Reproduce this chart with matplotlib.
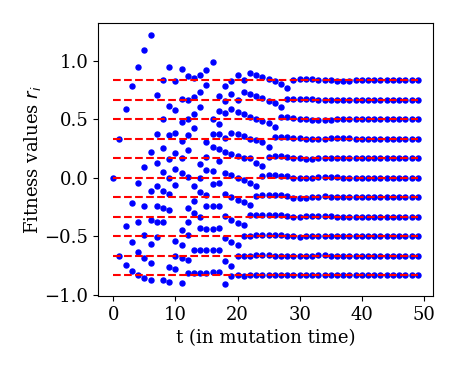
import numpy as np
import matplotlib
matplotlib.use("Agg")
import matplotlib.pyplot as plt

plt.rcParams['font.family'] = 'DejaVu Serif'
plt.rcParams['font.size'] = 13

# fitness levels (dashed lines)
levels = [5/6, 4/6, 3/6, 2/6, 1/6, 0.0, -1/6, -2/6, -3/6, -4/6, -5/6]

# early phase: values read per time step t = 0..19
t_early = list(range(20))
r_early = [
    [0.0],
    [0.333, -0.667],
    [0.584, -0.416, -0.750],
    [0.780, -0.217, -0.550, -0.800],
    [0.949, -0.050, -0.383, -0.633, -0.832],
    [1.090, 0.092, -0.243, -0.487, -0.690, -0.858],
    [1.216, 0.216, -0.116, -0.366, -0.564, -0.730, -0.875],
    [0.706, 0.373, 0.125, -0.073, -0.243, -0.383, -0.507],
    [0.832, 0.501, 0.250, 0.051, -0.116, -0.260, -0.383, -0.875],
    [0.945, 0.612, 0.362, 0.159, -0.006, -0.140, -0.276, -0.764, -0.890],
    [0.826, 0.578, 0.379, 0.210, 0.070, -0.062, -0.546, -0.670, -0.781],
    [0.926, 0.675, 0.479, 0.310, 0.168, 0.043, -0.449, -0.574, -0.688, -0.900],
    [0.868, 0.667, 0.504, 0.362, 0.236, 0.009, -0.256, -0.382, -0.487, -0.705, -0.812],
    [0.855, 0.689, 0.547, 0.424, -0.070, -0.197, -0.303, -0.619, -0.812],
    [0.874, 0.732, 0.607, 0.120, -0.006, -0.120, -0.336, -0.433, -0.617, -0.812],
    [0.920, 0.795, 0.304, 0.180, 0.068, -0.148, -0.243, -0.436, -0.617, -0.812],
    [0.985, 0.500, 0.373, 0.262, 0.060, -0.053, -0.245, -0.436, -0.618, -0.810],
    [0.700, 0.570, 0.460, 0.370, 0.242, 0.142, -0.050, -0.245, -0.433, -0.615, -0.810],
    [0.786, 0.652, 0.552, 0.340, 0.222, 0.040, -0.143, -0.330, -0.519, -0.713, -0.906],
    [0.823, 0.714, 0.585, 0.385, 0.205, 0.020, -0.166, -0.359, -0.547, -0.755, -0.840],
]

# late phase: one series per level, t = 20..49
t_late = list(range(20, 50))
r_late = [
    [0.880, 0.834, 0.897, 0.880, 0.863, 0.845, 0.828, 0.803, 0.770, 0.838, 0.840, 0.841, 0.840, 0.837, 0.835,
     0.834, 0.830, 0.829, 0.830, 0.832, 0.833, 0.833, 0.833, 0.833, 0.833, 0.833, 0.832, 0.832, 0.832, 0.832],
    [0.660, 0.732, 0.712, 0.698, 0.680, 0.658, 0.635, 0.604, 0.675, 0.672, 0.672, 0.672, 0.670, 0.665, 0.662,
     0.661, 0.662, 0.663, 0.666, 0.667, 0.668, 0.668, 0.667, 0.667, 0.667, 0.667, 0.667, 0.667, 0.667, 0.667],
    [0.564, 0.541, 0.521, 0.505, 0.487, 0.470, 0.436, 0.515, 0.515, 0.510, 0.505, 0.502, 0.497, 0.495, 0.495,
     0.497, 0.500, 0.501, 0.501, 0.500, 0.500, 0.500, 0.500, 0.500, 0.500, 0.500, 0.500, 0.500, 0.500, 0.500],
    [0.370, 0.356, 0.333, 0.321, 0.304, 0.265, 0.344, 0.344, 0.344, 0.340, 0.336, 0.330, 0.328, 0.328, 0.330,
     0.336, 0.338, 0.337, 0.335, 0.333, 0.333, 0.333, 0.334, 0.334, 0.333, 0.333, 0.333, 0.333, 0.333, 0.333],
    [0.185, 0.167, 0.164, 0.128, 0.099, 0.180, 0.185, 0.185, 0.176, 0.170, 0.164, 0.162, 0.162, 0.164, 0.170,
     0.171, 0.171, 0.169, 0.167, 0.166, 0.166, 0.167, 0.167, 0.167, 0.167, 0.167, 0.167, 0.167, 0.167, 0.167],
    [0.000, -0.020, -0.043, -0.072, 0.014, 0.020, 0.020, 0.014, 0.010, -0.003, -0.004, -0.004, -0.002, 0.003, 0.005,
     0.005, 0.003, 0.001, 0.000, 0.000, -0.001, 0.000, 0.000, 0.000, 0.000, 0.000, 0.000, 0.000, 0.000, 0.000],
    [-0.191, -0.208, -0.237, -0.157, -0.150, -0.148, -0.150, -0.152, -0.160, -0.172, -0.172, -0.170, -0.168, -0.163, -0.161,
     -0.162, -0.164, -0.166, -0.167, -0.167, -0.167, -0.167, -0.167, -0.167, -0.167, -0.167, -0.167, -0.167, -0.167, -0.167],
    [-0.385, -0.408, -0.318, -0.316, -0.316, -0.316, -0.316, -0.320, -0.326, -0.338, -0.338, -0.330, -0.328, -0.327, -0.328,
     -0.332, -0.334, -0.334, -0.333, -0.333, -0.333, -0.333, -0.333, -0.333, -0.333, -0.333, -0.333, -0.333, -0.333, -0.333],
    [-0.578, -0.495, -0.495, -0.493, -0.491, -0.490, -0.490, -0.493, -0.497, -0.502, -0.504, -0.499, -0.497, -0.497, -0.498,
     -0.500, -0.500, -0.501, -0.500, -0.500, -0.500, -0.500, -0.500, -0.500, -0.500, -0.500, -0.500, -0.500, -0.500, -0.500],
    [-0.670, -0.667, -0.667, -0.664, -0.664, -0.665, -0.666, -0.667, -0.668, -0.669, -0.669, -0.667, -0.666, -0.665, -0.665,
     -0.666, -0.667, -0.667, -0.667, -0.667, -0.667, -0.667, -0.667, -0.667, -0.667, -0.667, -0.667, -0.667, -0.667, -0.667],
    [-0.832, -0.838, -0.835, -0.834, -0.832, -0.832, -0.833, -0.833, -0.833, -0.834, -0.834, -0.833, -0.833, -0.833, -0.833,
     -0.833, -0.833, -0.833, -0.833, -0.833, -0.833, -0.833, -0.833, -0.833, -0.833, -0.833, -0.833, -0.833, -0.833, -0.833],
]

fig = plt.figure(figsize=(4.57, 3.66), dpi=100)
ax = fig.add_axes([0.2144, 0.1913, 0.7331, 0.7457])

for t, vals in zip(t_early, r_early):
    ax.plot([t]*len(vals), vals, 'o', color='blue', ms=3.6, mec='blue')
for series in r_late:
    ax.plot(t_late, series, 'o', color='blue', ms=3.6, mec='blue', ls='none')

#dashed level lines
for lv in levels:
    ax.plot([0, 49], [lv, lv], '--', color='red', lw=1.5)

ax.set_xlabel('t (in mutation time)')
ax.set_ylabel('Fitness values $r_i$', labelpad=1)
ax.set_xticks(np.arange(0, 51, 10))
ax.set_yticks([-1.0, -0.5, 0.0, 0.5, 1.0])

plt.savefig('out.png', dpi=100)
